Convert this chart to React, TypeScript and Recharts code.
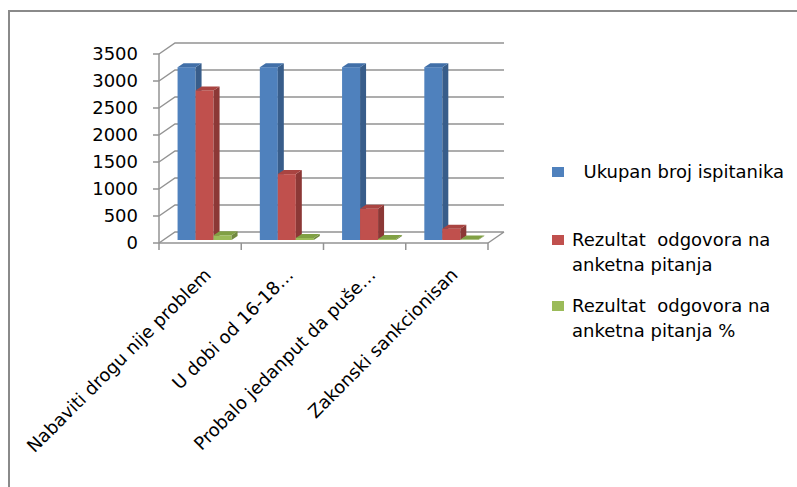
import { BarChart, Bar, XAxis, YAxis, CartesianGrid } from 'recharts';

const categories = [
  'Nabaviti drogu nije problem',
  'U dobi od 16-18…',
  'Probalo jedanput da puše…',
  'Zakonski sankcionisan',
];
const ukupanBroj = [3200, 3200, 3200, 3200];
const rezultat = [2770, 1220, 580, 210];
const rezultatPct = [87, 38, 18, 7];
const yTicks = [0, 500, 1000, 1500, 2000, 2500, 3000, 3500];

const series = [
  { key: 'ukupan', name: '  Ukupan broj ispitanika', front: '#4F81BD', side: '#385D8A', top: '#416FA8' },
  { key: 'rezultat', name: 'Rezultat  odgovora na anketna pitanja', front: '#C0504D', side: '#8C3836', top: '#A94441' },
  { key: 'pct', name: 'Rezultat  odgovora na anketna pitanja %', front: '#9BBB59', side: '#71893F', top: '#80A044' },
];

const data = categories.map((name, i) => ({
  name,
  ukupan: ukupanBroj[i],
  rezultat: rezultat[i],
  pct: rezultatPct[i],
}));

// 3d look: wall depth, bar depth, bar shift into the box
const WX = 16;
const WY = 11;
const BX = 6;
const BY = 4;
const SX = 5;
const SY = -3;
const LINE = '#939393';
const FONT = 'DejaVu Sans';

function Bar3D(props: any) {
  const { x, y, width: w, height: h, colors } = props;
  if (w == null || h == null) return null;
  const x0 = x + SX;
  const y0 = y + SY;
  return (
    <g>
      <rect x={x0} y={y0} width={w} height={h} fill={colors.front} />
      <polygon
        points={`${x0 + w},${y0} ${x0 + w + BX},${y0 - BY} ${x0 + w + BX},${y0 + h - BY} ${x0 + w},${y0 + h}`}
        fill={colors.side}
      />
      <polygon
        points={`${x0},${y0} ${x0 + BX},${y0 - BY} ${x0 + w + BX},${y0 - BY} ${x0 + w},${y0}`}
        fill={colors.top}
      />
    </g>
  );
}

function GridLine(p: any) {
  const { x1, y1, x2 } = p;
  const bottom = p.y != null && p.height != null ? Math.abs(y1 - (p.y + p.height)) < 0.5 : p.index === 0;
  let d = `M${x1},${y1} L${x1 + WX},${y1 - WY} L${x2 + WX},${y1 - WY}`;
  if (bottom) d += ` M${x2},${y1} L${x2 + WX},${y1 - WY}`;
  return <path key={p.key} d={d} stroke={LINE} strokeWidth={1.5} fill="none" />;
}

function CatTick(p: any) {
  const { x, y, payload, index } = p;
  const half = payload?.offset || 41;
  const last = index === categories.length - 1;
  const tx = x + 12;
  const ty = y + 33;
  return (
    <g>
      <line x1={x - half} y1={y} x2={x - half} y2={y + 7} stroke={LINE} strokeWidth={1.5} />
      {last && <line x1={x + half} y1={y} x2={x + half} y2={y + 7} stroke={LINE} strokeWidth={1.5} />}
      <text
        x={tx}
        y={ty}
        transform={`rotate(-45 ${tx} ${ty})`}
        textAnchor="end"
        fontSize={18}
        fontFamily={FONT}
        fill="#000"
      >
        {payload.value}
      </text>
    </g>
  );
}

const legendTops = [159, 227, 293];

export default function App() {
  return (
    <div style={{ position: 'fixed', left: 0, top: 0, width: 797, height: 487, background: '#fff', overflow: 'hidden' }}>
      <div
        style={{
          position: 'absolute',
          left: 8,
          top: 10,
          width: 800,
          height: 500,
          borderLeft: '2px solid #8a8a8a',
          borderTop: '2px solid #8a8a8a',
        }}
      />
      <div style={{ position: 'absolute', left: 0, top: 0 }}>
        <BarChart
          width={797}
          height={487}
          data={data}
          margin={{ top: 54, right: 309, bottom: 4, left: 99 }}
          barCategoryGap="16.5%"
          barGap={0}
        >
          <CartesianGrid vertical={false} horizontal={(p: any) => <GridLine {...p} />} />
          <YAxis
            width={60}
            domain={[0, 3500]}
            ticks={yTicks}
            interval={0}
            axisLine={{ stroke: LINE, strokeWidth: 1.5 }}
            tickLine={{ stroke: LINE, strokeWidth: 1.5 }}
            tickSize={6}
            tickMargin={15}
            tick={{ fontSize: 18, fill: '#000', fontFamily: FONT }}
          />
          <XAxis
            dataKey="name"
            height={240}
            interval={0}
            tickLine={false}
            tickSize={0}
            tickMargin={0}
            axisLine={{ stroke: LINE, strokeWidth: 1.5 }}
            tick={(p: any) => <CatTick {...p} />}
          />
          {series.map((s) => (
            <Bar
              key={s.key}
              dataKey={s.key}
              name={s.name}
              isAnimationActive={false}
              shape={(p: any) => <Bar3D {...p} colors={s} />}
            />
          ))}
        </BarChart>
      </div>
      {series.map((s, i) => (
        <div key={s.key} style={{ position: 'absolute', left: 552, top: legendTops[i], width: 240 }}>
          <div
            style={{
              position: 'absolute',
              left: 0,
              top: 8,
              width: 12,
              height: 10,
              background: s.front,
            }}
          />
          <div
            style={{
              position: 'absolute',
              left: 20,
              top: 0,
              width: 225,
              fontFamily: FONT,
              fontSize: 18,
              lineHeight: '25px',
              color: '#000',
              whiteSpace: 'pre-wrap',
            }}
          >
            {s.name}
          </div>
        </div>
      ))}
    </div>
  );
}
